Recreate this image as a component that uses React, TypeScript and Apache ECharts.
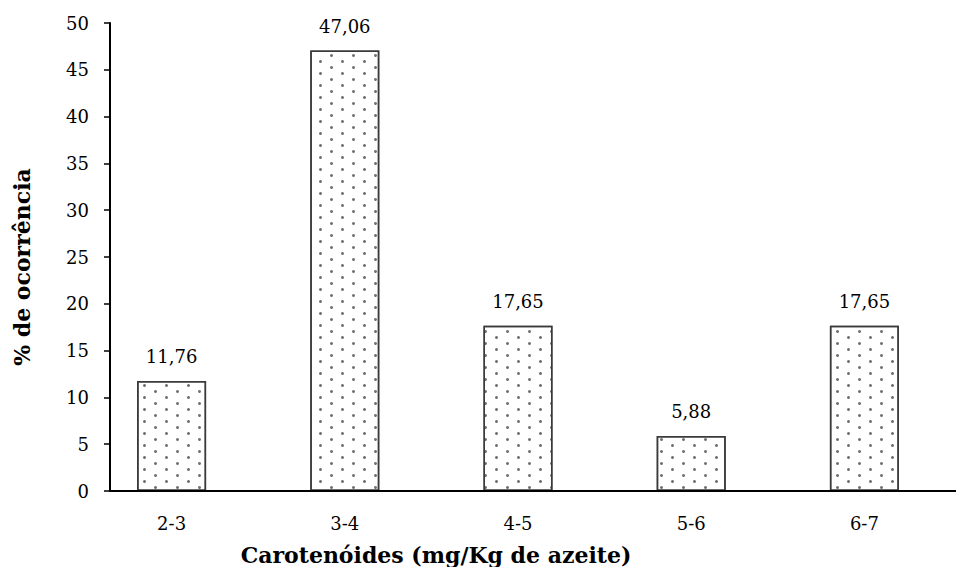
import React, { useEffect, useRef } from "react";
import * as echarts from "echarts";

const categories = ["2-3", "3-4", "4-5", "5-6", "6-7"];
const occurrence = [11.76, 47.06, 17.65, 5.88, 17.65];
const yTicks = { min: 0, max: 50, interval: 5 };

const xTitle = "Carotenóides (mg/Kg de azeite)";
const yTitle = "% de ocorrência";

const FONT = "DejaVu Serif";

export default function App() {
  const ref = useRef<HTMLDivElement>(null);

  useEffect(() => {
    if (!ref.current) return;
    const chart = echarts.init(ref.current, null, { renderer: "svg" });
    chart.setOption({
      animation: false,
      backgroundColor: "#ffffff",
      textStyle: { fontFamily: FONT },
      grid: { left: 85, right: 13, top: 23, bottom: 84 },
      xAxis: {
        type: "category",
        data: categories,
        axisLine: { show: false },
        axisTick: { show: false },
        axisLabel: { color: "#000", fontFamily: FONT, fontSize: 18, margin: 23 },
      },
      yAxis: {
        type: "value",
        min: yTicks.min,
        max: yTicks.max,
        interval: yTicks.interval,
        offset: -25,
        splitLine: { show: false },
        axisLine: { show: true, lineStyle: { color: "#000", width: 2 } },
        axisTick: { show: true, length: 6, lineStyle: { color: "#000", width: 1.5 } },
        axisLabel: { color: "#000", fontFamily: FONT, fontSize: 18, margin: 21 },
      },
      graphic: [
        {
          type: "line",
          shape: { x1: 110, y1: 491, x2: 963, y2: 491 },
          style: { stroke: "#000", lineWidth: 2 },
          z: 10,
        },
        {
          type: "text",
          x: 436,
          y: 555,
          style: {
            text: xTitle,
            fill: "#000",
            fontFamily: FONT,
            fontSize: 22,
            fontWeight: "bold",
            textAlign: "center",
            textVerticalAlign: "middle",
          },
        },
        {
          type: "text",
          x: 22,
          y: 267,
          rotation: Math.PI / 2,
          style: {
            text: yTitle,
            fill: "#000",
            fontFamily: FONT,
            fontSize: 22,
            fontWeight: "bold",
            textAlign: "center",
            textVerticalAlign: "middle",
          },
        },
      ],
      series: [
        {
          type: "bar",
          data: occurrence,
          barWidth: 69,
          itemStyle: {
            color: "#ffffff",
            borderColor: "#3a3a3a",
            borderWidth: 1.5,
            decal: {
              symbol: "circle",
              symbolSize: 1,
              color: "#707070",
              backgroundColor: "#ffffff",
              dashArrayX: [[2.5, 18.5], [0, 10.5, 2.5, 8]],
              dashArrayY: [2.5, 2.8],
              rotation: 0,
            },
          },
          label: {
            show: true,
            position: "top",
            distance: 15,
            color: "#000",
            fontFamily: FONT,
            fontSize: 18,
            formatter: (p: any) => Number(p.value).toFixed(2).replace(".", ","),
          },
        },
      ],
    });
    return () => chart.dispose();
  }, []);

  return <div ref={ref} style={{ width: 964, height: 575, margin: -8 }} />;
}
